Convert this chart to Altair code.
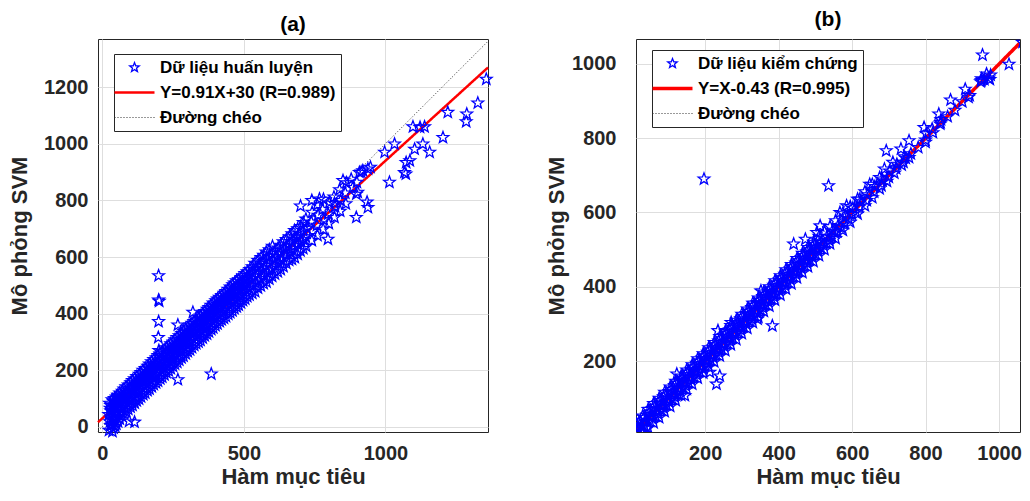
import math
import altair as alt
import pandas as pd

FONT = "Liberation Sans"
TXT = "#262626"

# ---------------- data: panel (a) training ----------------
A_LABELS = ["Dữ liệu huấn luyện", "Y=0.91X+30 (R=0.989)", "Đường chéo"]
A_XDOMAIN = [-15, 1362]
A_YDOMAIN = [-18, 1370]
A_XTICKS = [0, 500, 1000]
A_YTICKS = [0, 200, 400, 600, 800, 1000, 1200]
A_BAND = [
    (24, -12), (27, 18), (23, 44), (28, 66), (26, 84),
    (36, -16), (34, 8), (38, 36), (33, 58), (37, 78), (35, 96),
    (46, 2), (44, 28), (48, 54), (45, 76), (43, 100),
    (56, 18), (58, 44), (54, 70), (57, 94), (55, 112),
    (70, 38), (68, 64), (72, 86), (69, 108), (71, 126),
    (85, 54), (87, 78), (83, 100), (86, 122), (84, 142),
    (100, 70), (98, 94), (102, 114), (99, 136), (101, 156),
    (115, 84), (117, 108), (113, 130), (116, 150), (114, 170),
    (130, 98), (128, 124), (132, 146), (129, 166), (131, 186),
    (145, 114), (147, 138), (143, 160), (146, 180), (144, 200),
    (160, 128), (158, 152), (162, 174), (159, 196), (161, 214),
    (175, 142), (177, 164), (173, 188), (176, 210), (174, 230),
    (190, 156), (188, 178), (192, 202), (189, 224), (191, 244),
    (205, 170), (207, 194), (203, 216), (206, 238), (204, 258),
    (220, 184), (218, 208), (222, 230), (219, 252), (221, 272),
    (235, 198), (237, 222), (233, 246), (236, 266), (234, 286),
    (250, 214), (248, 238), (252, 260), (249, 280), (251, 300),
    (265, 228), (267, 252), (263, 274), (266, 296), (264, 316),
    (280, 244), (278, 268), (282, 290), (279, 310), (281, 330),
    (295, 258), (297, 282), (293, 306), (296, 326), (294, 346),
    (310, 272), (308, 298), (312, 320), (309, 340), (311, 360),
    (325, 288), (327, 310), (323, 334), (326, 354), (324, 372),
    (340, 300), (338, 324), (342, 346), (339, 366), (341, 386),
    (355, 314), (357, 338), (353, 360), (356, 380), (354, 400),
    (370, 328), (368, 354), (372, 376), (369, 396), (371, 416),
    (385, 344), (387, 368), (383, 390), (386, 410), (384, 430),
    (400, 358), (398, 380), (402, 404), (399, 426), (401, 446),
    (415, 372), (417, 396), (413, 420), (416, 440), (414, 458),
    (430, 384), (428, 410), (432, 432), (429, 452), (431, 472),
    (445, 398), (447, 424), (443, 446), (446, 466), (444, 486),
    (460, 410), (458, 438), (462, 460), (459, 482), (461, 502),
    (475, 424), (477, 450), (473, 472), (476, 496), (474, 516),
    (490, 438), (488, 464), (492, 486), (489, 506), (491, 528),
    (505, 452), (507, 478), (503, 500), (506, 522), (504, 542),
    (520, 466), (518, 490), (522, 514), (519, 536), (521, 556),
    (540, 478), (542, 508), (538, 532), (541, 556), (539, 578),
    (560, 498), (558, 524), (562, 550), (559, 576), (561, 598),
    (580, 512), (582, 544), (578, 570), (581, 592), (579, 618),
    (600, 532), (598, 560), (602, 586), (599, 612), (601, 638),
    (620, 548), (622, 578), (618, 602), (621, 632),
    (640, 566), (638, 600), (642, 626), (639, 654),
    (660, 588), (662, 618), (658, 646), (661, 672),
    (680, 598), (678, 640), (682, 662), (679, 694),
    (700, 622), (702, 654), (698, 682), (701, 708),
    (720, 638), (718, 672), (722, 702), (719, 734),
    (740, 658), (742, 690), (738, 724), (741, 758),
    (760, 676), (758, 712), (762, 748), (759, 784),
    (780, 698), (782, 732), (778, 768), (781, 804),
    (800, 718), (798, 752), (802, 792),
    (820, 740), (822, 778), (818, 812),
    (840, 762), (842, 800), (838, 838),
    (860, 788), (858, 826), (862, 862),
]
A_BAND_FILL = [
    (30, 5), (30, 32), (30, 56), (30, 76),
    (40, -4), (40, 22), (40, 46), (40, 70), (40, 90),
    (50, 10), (50, 36), (50, 62), (50, 86), (50, 106),
    (62, 28), (62, 54), (62, 78), (62, 102), (62, 120),
    (77, 46), (77, 70), (77, 94), (77, 116), (77, 134),
    (92, 62), (92, 86), (92, 108), (92, 130), (92, 148),
    (107, 76), (107, 102), (107, 124), (107, 144), (107, 164),
    (122, 92), (122, 116), (122, 138), (122, 158), (122, 178),
    (137, 106), (137, 132), (137, 152), (137, 172), (137, 192),
    (152, 120), (152, 146), (152, 166), (152, 188), (152, 206),
    (167, 134), (167, 158), (167, 182), (167, 204), (167, 222),
    (182, 150), (182, 172), (182, 196), (182, 218), (182, 238),
    (197, 162), (197, 186), (197, 210), (197, 232), (197, 252),
    (212, 176), (212, 200), (212, 224), (212, 246), (212, 266),
    (227, 192), (227, 216), (227, 238), (227, 260), (227, 280),
    (242, 206), (242, 230), (242, 254), (242, 274), (242, 294),
    (257, 222), (257, 246), (257, 268), (257, 288), (257, 308),
    (272, 236), (272, 260), (272, 282), (272, 304), (272, 322),
    (287, 250), (287, 276), (287, 298), (287, 318), (287, 338),
    (302, 266), (302, 290), (302, 312), (302, 334), (302, 352),
    (317, 280), (317, 304), (317, 328), (317, 348), (317, 366),
    (332, 294), (332, 318), (332, 340), (332, 360), (332, 378),
    (347, 306), (347, 332), (347, 354), (347, 374), (347, 392),
    (362, 322), (362, 346), (362, 368), (362, 388), (362, 408),
    (377, 336), (377, 360), (377, 384), (377, 404), (377, 422),
    (392, 350), (392, 374), (392, 398), (392, 418), (392, 438),
    (407, 364), (407, 388), (407, 412), (407, 432), (407, 452),
    (422, 378), (422, 402), (422, 426), (422, 446), (422, 464),
    (437, 390), (437, 418), (437, 440), (437, 458), (437, 478),
    (452, 404), (452, 430), (452, 452), (452, 474), (452, 494),
    (467, 418), (467, 444), (467, 466), (467, 488), (467, 508),
    (482, 430), (482, 458), (482, 478), (482, 500), (482, 520),
    (497, 446), (497, 470), (497, 494), (497, 514), (497, 534),
    (512, 460), (512, 484), (512, 508), (512, 528), (512, 548),
    (530, 472), (530, 500), (530, 522), (530, 546), (530, 566),
    (550, 490), (550, 516), (550, 540), (550, 566), (550, 588),
    (570, 506), (570, 534), (570, 560), (570, 584), (570, 606),
    (590, 522), (590, 552), (590, 578), (590, 602), (590, 626),
    (610, 540), (610, 570), (610, 594), (610, 622),
    (630, 556), (630, 590), (630, 614), (630, 642),
    (650, 578), (650, 608), (650, 636), (650, 662),
    (670, 592), (670, 630), (670, 654), (670, 682),
    (690, 610), (690, 646), (690, 670), (690, 700),
    (710, 630), (710, 662), (710, 692), (710, 722),
]
A_OUTLIERS = [
    (199, 534), (199, 448), (201, 444), (199, 372), (198, 316), (200, 270),
    (267, 167), (385, 187), (114, 17), (95, 20), (320, 405), (267, 360),
    (700, 780), (740, 800), (767, 805), (797, 663), (820, 790), (850, 870),
    (879, 875), (908, 899), (938, 911), (947, 917), (914, 900), (897, 822),
    (935, 794), (938, 775), (897, 740), (885, 846), (902, 829), (920, 905),
    (899, 864), (997, 970), (1014, 864), (1032, 999), (1073, 934), (1067, 899),
    (1072, 893), (1086, 940), (1103, 981), (1132, 999), (1156, 970),
    (1097, 1060), (1122, 1058), (1138, 1060), (1203, 1022), (1220, 1111),
    (1285, 1078), (1287, 1105), (1326, 1144), (1356, 1228),
]
A_FIT = [(-15, 16.35), (1362, 1269.4)]
A_DIAG = [(-15, -15), (1362, 1362)]

# ---------------- data: panel (b) validation ----------------
B_LABELS = ["Dữ liệu kiểm chứng", "Y=X-0.43 (R=0.995)", "Đường chéo"]
B_XDOMAIN = [12, 1057]
B_YDOMAIN = [9, 1067]
B_XTICKS = [200, 400, 600, 800, 1000]
B_YTICKS = [200, 400, 600, 800, 1000]
B_BAND = [
    (15, 12), (17, 22), (14, 30),
    (25, 15), (27, 28), (24, 40),
    (35, 25), (37, 38), (34, 48),
    (50, 38), (52, 52), (49, 62),
    (65, 52), (67, 66), (64, 78),
    (80, 68), (82, 80), (79, 94),
    (95, 82), (97, 96), (94, 108),
    (110, 98), (112, 112), (109, 124),
    (125, 112), (127, 126), (124, 140),
    (140, 128), (142, 142), (139, 154),
    (155, 142), (157, 156), (154, 170),
    (170, 158), (172, 172), (169, 184),
    (185, 172), (187, 186), (184, 200),
    (200, 188), (202, 202), (199, 214),
    (215, 202), (217, 216), (214, 230),
    (230, 218), (232, 232), (229, 244),
    (245, 232), (247, 246), (244, 260),
    (260, 248), (262, 262), (259, 274),
    (275, 262), (277, 276), (274, 290),
    (290, 278), (292, 292), (289, 304),
    (305, 292), (307, 306), (304, 320),
    (320, 308), (322, 322), (319, 334),
    (335, 322), (337, 336), (334, 350),
    (350, 338), (352, 352), (349, 364),
    (365, 352), (367, 366), (364, 380),
    (380, 368), (382, 382), (379, 394),
    (395, 382), (397, 396), (394, 410),
    (410, 398), (412, 412), (409, 424),
    (425, 412), (427, 426), (424, 440),
    (440, 428), (442, 442), (439, 454),
    (455, 442), (457, 456), (454, 470),
    (470, 458), (472, 472), (469, 484),
    (485, 472), (487, 486), (484, 500),
    (500, 488), (502, 502), (499, 514),
    (515, 505), (517, 520), (530, 518), (532, 535),
    (545, 535), (547, 552), (560, 548), (562, 565),
    (580, 570), (582, 590), (600, 595), (602, 612),
    (620, 615), (622, 628), (640, 632), (642, 648),
    (660, 655), (662, 670), (680, 672), (682, 690),
    (700, 695), (702, 712), (720, 718), (722, 730),
    (740, 735), (742, 750), (760, 758), (780, 775),
    (800, 795), (802, 812), (820, 815), (840, 838),
    (842, 850), (860, 858), (880, 875), (900, 898),
    (920, 915), (950, 952), (952, 960), (975, 958), (977, 970),
]
B_BAND_FILL = [
    (20, 35), (30, 10), (42, 20), (42, 55), (57, 45), (57, 72), (72, 58),
    (72, 88), (87, 74), (87, 104), (102, 90), (102, 118), (117, 104),
    (117, 134), (132, 120), (132, 148), (147, 134), (147, 164), (162, 150),
    (162, 178), (177, 164), (177, 194), (192, 180), (192, 208), (207, 194),
    (207, 224), (222, 210), (222, 238), (237, 224), (237, 254), (252, 240),
    (252, 268), (267, 254), (267, 284), (282, 270), (282, 298), (297, 284),
    (297, 314), (312, 300), (312, 328), (327, 314), (327, 344), (342, 330),
    (342, 358), (357, 344), (357, 374), (372, 360), (372, 388), (387, 374),
    (387, 404), (402, 390), (402, 418), (417, 404), (417, 434), (432, 420),
    (432, 448), (447, 434), (447, 464), (462, 450), (462, 478), (477, 464),
    (477, 494), (492, 480), (492, 508), (507, 496), (507, 524), (522, 512),
    (538, 525), (553, 545), (570, 560), (590, 582), (610, 602),
]
B_BAND_EDGE = [
    (30, 6), (30, 52), (45, 20), (45, 70), (60, 34), (60, 86), (75, 48),
    (75, 100), (90, 64), (90, 116), (105, 78), (105, 130), (120, 94),
    (120, 146), (135, 108), (135, 160), (150, 124), (150, 176), (165, 138),
    (165, 190), (180, 154), (180, 206), (195, 168), (195, 220), (210, 184),
    (210, 236), (225, 198), (225, 250), (240, 214), (240, 266), (255, 228),
    (255, 280), (270, 244), (270, 296), (285, 258), (285, 310), (300, 274),
    (300, 326), (315, 288), (315, 340), (330, 304), (330, 356), (345, 318),
    (345, 370), (360, 334), (360, 386), (375, 348), (375, 400), (390, 364),
    (390, 416), (405, 378), (405, 430), (420, 394), (420, 446), (435, 408),
    (435, 460), (450, 424), (450, 476), (465, 438), (465, 490), (480, 454),
    (480, 506), (495, 468), (495, 520), (510, 484), (510, 536), (525, 500),
    (525, 548), (540, 516), (540, 562), (555, 530), (555, 578), (575, 552),
    (575, 598), (595, 574), (595, 616), (615, 596), (615, 636), (635, 618),
    (635, 656), (655, 640), (655, 676), (675, 664), (675, 694), (695, 684),
    (715, 706), (735, 728), (755, 748),
]
B_OUTLIERS = [
    (955, 1024), (1027, 999), (1064, 1058), (966, 973), (960, 958), (972, 962),
    (952, 955), (908, 932), (917, 910), (868, 903), (836, 865), (841, 842),
    (818, 825), (796, 829), (800, 789), (755, 793), (746, 746), (733, 771),
    (693, 766), (711, 735), (688, 717), (683, 685), (648, 676), (621, 636),
    (585, 618), (567, 600), (536, 672), (197, 690), (513, 564), (504, 546),
    (473, 528), (441, 515), (352, 389), (383, 295), (240, 160), (231, 138),
    (213, 170), (145, 107), (123, 165), (235, 282), (271, 304), (343, 313),
]
B_FIT = [(12, 11.57), (1057, 1056.57)]
B_DIAG = [(12, 12), (1057, 1057)]

COLORS = ["#0000ff", "#ff0000", "#333333"]


def star_path(r_out=1.0, r_in=0.42):
    pts = []
    for k in range(10):
        ang = math.pi / 2 + k * math.pi / 5
        r = r_out if k % 2 == 0 else r_in
        pts.append((r * math.cos(ang), -r * math.sin(ang)))
    return "M" + "L".join(f"{x:.3f},{y:.3f}" for x, y in pts) + "Z"


STAR = star_path()
LINE = "M-4,0L4,0"


def panel(points, fit, diag, labels, xdom, ydom, xticks, yticks, title,
          w, h, ylabpad, ytitlepad, toff, clip, lx, ly, fitw):
    df_p = pd.DataFrame(points, columns=["x", "y"])
    df_p["s"] = labels[0]
    df_f = pd.DataFrame(fit, columns=["x", "y"])
    df_f["s"] = labels[1]
    df_d = pd.DataFrame(diag, columns=["x", "y"])
    df_d["s"] = labels[2]

    leg = alt.Legend(
        title=None, orient="none", legendX=lx, legendY=ly,
        fillColor="white", strokeColor=TXT, padding=5,
        labelFont=FONT, labelFontSize=17, labelFontWeight="bold",
        labelColor="#000000", labelLimit=400, symbolSize=100, symbolOffset=7,
        labelOffset=17, rowPadding=7,
    )
    xs = alt.Scale(domain=xdom, nice=False, zero=False)
    ys = alt.Scale(domain=ydom, nice=False, zero=False)
    xenc = alt.X("x:Q", scale=xs, axis=alt.Axis(
        values=xticks, format="d", title="Hàm mục tiêu", labelPadding=11,
        titlePadding=3))
    yenc = alt.Y("y:Q", scale=ys, axis=alt.Axis(
        values=yticks, format="d", title="Mô phỏng SVM", labelPadding=ylabpad,
        titlePadding=ytitlepad))
    color = alt.Color("s:N", scale=alt.Scale(domain=labels, range=COLORS), legend=leg)
    shape = alt.Shape("s:N", scale=alt.Scale(domain=labels, range=[STAR, LINE, LINE]), legend=leg)
    dash = alt.StrokeDash("s:N", scale=alt.Scale(domain=labels, range=[[1, 0], [1, 0], [1, 2]]), legend=leg)
    sw = alt.StrokeWidth("s:N", scale=alt.Scale(type="ordinal", domain=labels,
                                                range=[1.3, fitw, 1]), legend=leg)

    diag_l = alt.Chart(df_d).mark_line(clip=clip).encode(
        x=xenc, y=yenc, color=color, strokeDash=dash, strokeWidth=sw)
    fit_l = alt.Chart(df_f).mark_line(clip=clip).encode(
        x=xenc, y=yenc, color=color, strokeDash=dash, strokeWidth=sw)
    pts = alt.Chart(df_p).mark_point(filled=False, size=150, opacity=1, clip=clip).encode(
        x=xenc, y=yenc, color=color, shape=shape, strokeWidth=sw)
    return alt.layer(diag_l, fit_l, pts).properties(
        width=w, height=h,
        title=alt.TitleParams(title, font=FONT, fontSize=21, fontWeight="bold",
                              color="#000000", offset=toff, frame="group"))


pa = panel(A_BAND + A_BAND_FILL + A_OUTLIERS, A_FIT, A_DIAG, A_LABELS,
           A_XDOMAIN, A_YDOMAIN, A_XTICKS, A_YTICKS, "(a)",
           390, 393, 10, 12, 4, False, 16, 15, 2.5)
pb = panel(B_BAND + B_BAND_FILL + B_BAND_EDGE + B_OUTLIERS, B_FIT, B_DIAG, B_LABELS,
           B_XDOMAIN, B_YDOMAIN, B_XTICKS, B_YTICKS, "(b)",
           384, 393, 20, 3, 9, True, 16, 11, 3.5)

chart = alt.hconcat(pa, pb, spacing=49).resolve_scale(
    color="independent", shape="independent", strokeDash="independent",
    strokeWidth="independent", x="independent", y="independent"
).properties(
    padding={"left": 0, "top": 0, "right": 0, "bottom": 0}
).configure_view(
    stroke=TXT, strokeWidth=1
).configure_axis(
    labelFont=FONT, labelFontSize=20, labelFontWeight="bold", labelColor=TXT,
    titleFont=FONT, titleFontSize=22, titleFontWeight="bold", titleColor=TXT,
    grid=True, gridColor="#dedede", gridWidth=1, domain=False, ticks=False,
)

chart.save("out.html", embed_options={"renderer": "svg", "actions": False})
